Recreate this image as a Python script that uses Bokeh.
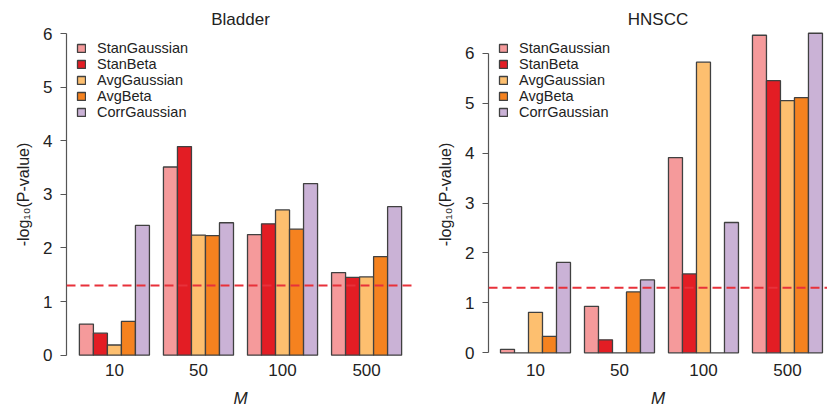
import numpy as np
from bokeh.plotting import figure
from bokeh.models import ColumnDataSource, FixedTicker, Range1d, Span, Title
from bokeh.layouts import row
from bokeh.embed import file_html
from bokeh.resources import INLINE

# ---------------- data ----------------
M_labels = ["10", "50", "100", "500"]
methods = ["StanGaussian", "StanBeta", "AvgGaussian", "AvgBeta", "CorrGaussian"]
colors = ["#F59A9B", "#E31D24", "#FDBF6F", "#F5821F", "#CAB2D6"]

bladder_stan_gaussian = [0.58, 3.51, 2.25, 1.54]
bladder_stan_beta = [0.41, 3.89, 2.45, 1.45]
bladder_avg_gaussian = [0.19, 2.24, 2.71, 1.46]
bladder_avg_beta = [0.63, 2.23, 2.35, 1.84]
bladder_corr_gaussian = [2.42, 2.47, 3.20, 2.77]

hnscc_stan_gaussian = [0.07, 0.93, 3.91, 6.36]
hnscc_stan_beta = [0.00, 0.26, 1.58, 5.45]
hnscc_avg_gaussian = [0.81, 0.00, 5.82, 5.05]
hnscc_avg_beta = [0.33, 1.22, 0.00, 5.11]
hnscc_corr_gaussian = [1.81, 1.46, 2.61, 6.40]

y_ticks = [0, 1, 2, 3, 4, 5, 6]
threshold = -np.log10(0.05)

bladder = [bladder_stan_gaussian, bladder_stan_beta, bladder_avg_gaussian,
           bladder_avg_beta, bladder_corr_gaussian]
hnscc = [hnscc_stan_gaussian, hnscc_stan_beta, hnscc_avg_gaussian,
         hnscc_avg_beta, hnscc_corr_gaussian]

FONT = "Liberation Sans"
TXT = "#222222"
AX = "#555555"
n_groups = len(M_labels)
n_meth = len(methods)
group_idx = np.arange(n_groups)
centers = list(group_idx * (n_meth + 1) + 1 + n_meth / 2.0)


def make_panel(title, series, x_rng, y_rng, width, border_left, border_right,
               title_offset=0):
    p = figure(width=width, height=413, x_range=Range1d(*x_rng),
               y_range=Range1d(*y_rng), output_backend="svg",
               toolbar_location=None, min_border_left=border_left,
               min_border_right=border_right, min_border_top=30,
               min_border_bottom=55)
    p.title = Title(text=title, align="center", text_font=FONT,
                    text_font_size="17px", text_font_style="normal",
                    text_color=TXT, standoff=4, offset=title_offset)
    p.outline_line_color = None
    p.grid.visible = False
    p.background_fill_color = "white"
    p.border_fill_color = "white"

    for k, (name, vals, col) in enumerate(zip(methods, series, colors)):
        xs = group_idx * (n_meth + 1) + 1 + k + 0.5
        src = ColumnDataSource(dict(x=xs, top=vals))
        p.vbar(x="x", top="top", bottom=0, width=1.0, source=src,
               fill_color=col, line_color="#404040", line_width=1.3,
               legend_label=name)

    p.add_layout(Span(location=threshold, dimension="width",
                      line_color="#E8313A", line_width=2, line_dash="9 5"))

    # x axis
    xa = p.xaxis[0]
    xa.ticker = FixedTicker(ticks=centers)
    xa.major_label_overrides = {c: lab for c, lab in zip(centers, M_labels)}
    xa.axis_line_color = None
    xa.major_tick_line_color = None
    xa.minor_tick_line_color = None
    xa.major_tick_out = 0
    xa.major_label_standoff = 5
    xa.major_label_text_font = FONT
    xa.major_label_text_font_size = "17px"
    xa.major_label_text_color = TXT
    xa.axis_label = "M"
    xa.axis_label_text_font = FONT
    xa.axis_label_text_font_size = "17px"
    xa.axis_label_text_font_style = "italic"
    xa.axis_label_text_color = TXT
    xa.axis_label_standoff = 10

    # y axis
    ya = p.yaxis[0]
    ya.ticker = FixedTicker(ticks=y_ticks)
    ya.bounds = (y_ticks[0], y_ticks[-1])
    ya.axis_line_color = AX
    ya.axis_line_width = 1.2
    ya.major_tick_line_color = AX
    ya.major_tick_line_width = 1.2
    ya.major_tick_in = 0
    ya.major_tick_out = 6
    ya.minor_tick_line_color = None
    ya.major_label_standoff = 8
    ya.major_label_orientation = "horizontal"
    ya.major_label_text_font = FONT
    ya.major_label_text_font_size = "17px"
    ya.major_label_text_color = TXT
    ya.axis_label = "-log\u2081\u2080(P-value)"
    ya.axis_label_text_font = FONT
    ya.axis_label_text_font_size = "16px"
    ya.axis_label_text_font_style = "normal"
    ya.axis_label_text_color = TXT
    ya.axis_label_standoff = 8

    lg = p.legend[0]
    lg.location = "top_left"
    lg.margin = 10
    lg.padding = 2
    lg.spacing = 0
    lg.border_line_color = None
    lg.background_fill_alpha = 0
    lg.glyph_width = 10
    lg.glyph_height = 10
    lg.label_height = 16
    lg.label_standoff = 11
    lg.label_text_font = FONT
    lg.label_text_font_size = "14.5px"
    lg.label_text_line_height = 1.0
    lg.label_text_color = TXT
    return p


left = make_panel("Bladder", bladder, (0.08, 24.92), (-0.062, 6.056),
                  width=424, border_left=66, border_right=10)
right = make_panel("HNSCC", hnscc, (0.143, 24.36), (-0.114, 6.455),
                   width=403, border_left=64, border_right=0, title_offset=4)

layout = row(left, right)
open("out.html", "w").write(file_html(layout, INLINE))
